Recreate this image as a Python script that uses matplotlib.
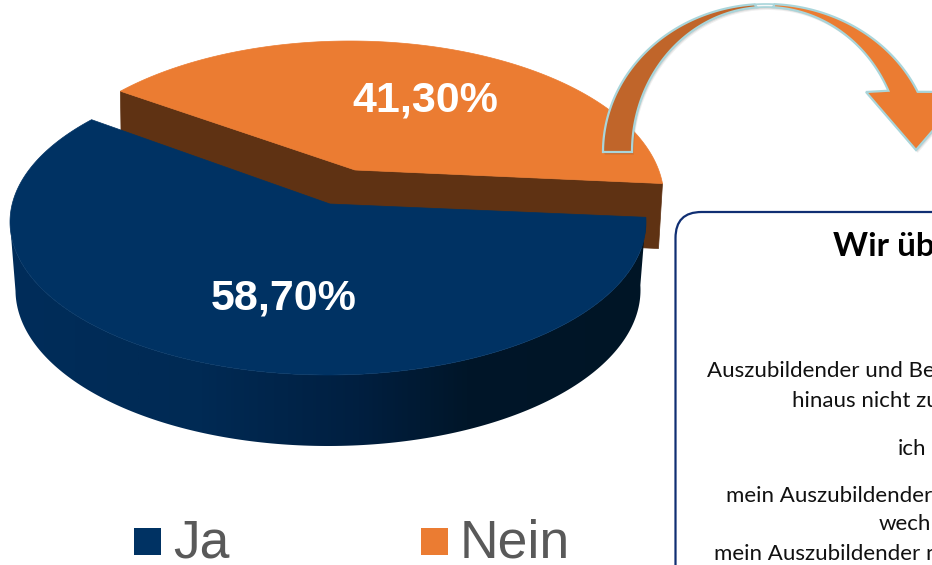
import numpy as np
import matplotlib
matplotlib.use("Agg")
import matplotlib.pyplot as plt
from matplotlib.patches import Polygon, Rectangle, FancyBboxPatch
from matplotlib.colors import LinearSegmentedColormap

categories = ["Ja", "Nein"]
shares = [58.70, 41.30]
value_labels = ["58,70%", "41,30%"]
heading = "Wir üb"
box_lines = ["Auszubildender und Be", "hinaus nicht zu", "ich",
             "mein Auszubildender", "wech", "mein Auszubildender n"]

NAVY, ORANGE, WALL = "#003263", "#EB7C32", "#5F3213"
W, H = 932, 565
fig = plt.figure(figsize=(W / 100, H / 100), dpi=100)
ax = fig.add_axes([0, 0, 1, 1])
ax.set_xlim(0, W); ax.set_ylim(H, 0); ax.axis("off")


def rim(apex, cx, cy, rx, ry, start, sweep, n=240):
    """Points where rays from the apex meet the rim, equal angle per unit share."""
    ax0, ay0 = (apex[0] - cx) / rx, (apex[1] - cy) / ry
    th = np.radians(np.linspace(start, start + sweep, n))
    dx, dy = np.cos(th), np.sin(th)
    b = ax0 * dx + ay0 * dy
    t = -b + np.sqrt(b ** 2 - (ax0 ** 2 + ay0 ** 2 - 1))
    ux, uy = ax0 + t * dx, ay0 + t * dy
    return ux, uy, cx + rx * ux, cy + ry * uy


start_angle = 5.0
sweep_ja = shares[0] * 3.6
sweep_nein = shares[1] * 3.6

# rear slice (Nein)
apex_o = (355, 170)
ux, uy, xo, yo = rim(apex_o, 350, 199, 314, 158, start_angle + sweep_ja - 2.6, sweep_nein + 2.6)
drop = 65
wall_l = [(xo[0], yo[0]), apex_o, (apex_o[0], apex_o[1] + drop), (xo[0] + 1, yo[0] + drop)]
wall_r = [apex_o, (xo[-1], yo[-1]), (xo[-1] - 4, yo[-1] + drop), (apex_o[0], apex_o[1] + drop)]
for w in (wall_l, wall_r):
    ax.add_patch(Polygon(w, fc=WALL, ec=WALL, lw=0.5, zorder=2))
ax.add_patch(Polygon(np.r_[[apex_o], np.c_[xo, yo]], fc=ORANGE, ec=ORANGE, lw=0.5, zorder=3))

# front slice (Ja)
apex_b = (330, 204)
cxb, cyb, rxb, ryb = 328, 222, 318, 153
ux, uy, xb, yb = rim(apex_b, cxb, cyb, rxb, ryb, start_angle, sweep_ja)
xb2, yb2 = 328 + 312.5 * ux, 290 + 156 * uy
k = int(np.argmin(xb)) + 1
side = np.r_[np.c_[xb[:k], yb[:k]], np.c_[xb2[:k], yb2[:k]][::-1]]
side_patch = Polygon(side, fc="none", ec="none", zorder=4)
ax.add_patch(side_patch)
cmap = LinearSegmentedColormap.from_list("side", [(0, "#002D5A"), (0.3, "#002A54"), (0.55, "#001F40"),
                                                  (0.72, "#001629"), (1, "#001526")])
grad = np.linspace(0, 1, 400)[None, :]
im = ax.imshow(grad, cmap=cmap, extent=(10, 646, 460, 200), aspect="auto", zorder=4)
im.set_clip_path(side_patch)
ax.set_xlim(0, W); ax.set_ylim(H, 0)
ax.add_patch(Polygon(np.r_[[apex_b], np.c_[xb, yb]], fc=NAVY, ec=NAVY, lw=0.5, zorder=5))

# value labels
lab = dict(color="white", fontsize=31, fontweight="bold", family="Liberation Sans", ha="center", va="baseline", zorder=7)
ax.text(284, 310, value_labels[0], **lab)
ax.text(425, 111, value_labels[1], **lab)

# curved arrow
acx, acy = 766, 152
a = np.radians(np.linspace(180, 266, 80))
left = np.r_[np.c_[acx + 163 * np.cos(a), acy + 148 * np.sin(a)],
             np.c_[acx + 134 * np.cos(a), acy + 145 * np.sin(a)][::-1]]
m = np.radians(np.linspace(266, 273, 20))
mid = np.r_[np.c_[acx + 163 * np.cos(m), acy + 148 * np.sin(m)],
            np.c_[acx + 134 * np.cos(m), acy + 145 * np.sin(m)][::-1]]
b1 = np.radians(np.linspace(273, 336.0, 80))
b2 = np.radians(np.linspace(273, 335.0, 80))
right = np.r_[np.c_[acx + 166 * np.cos(b1), acy + 148 * np.sin(b1)],
              [(966, 92), (916, 150), (866, 92)],
              np.c_[acx + 135 * np.cos(b2), acy + 145 * np.sin(b2)][::-1]]
for shape in (left, mid, right):
    for off, al in ((3.0, 0.06), (2.0, 0.08), (1.0, 0.10)):
        ax.add_patch(Polygon(shape + [off * 0.6, off], fc="black", ec="none", alpha=al, zorder=8))
ax.add_patch(Polygon(mid, fc="#F6F9F9", ec="#A9D5DA", lw=1.2, zorder=9))
ax.add_patch(Polygon(left, fc="#C0652A", ec="#A9D5DA", lw=1.6, joinstyle="miter", zorder=9))
ax.add_patch(Polygon(right, fc=ORANGE, ec="#A9D5DA", lw=1.6, joinstyle="miter", zorder=9))

# text box
ax.add_patch(FancyBboxPatch((675.5, 212), 400, 500, boxstyle="round,pad=0,rounding_size=26",
                            fc="white", ec="#102F73", lw=1.6, zorder=10))
ax.text(833, 256, heading, family="Lato", fontweight="bold", fontsize=24, color="black", va="baseline", zorder=11)
xs = [707, 792, 898, 726, 879, 714]
ys = [377, 407, 455, 502, 530, 560]
for s, x, y in zip(box_lines, xs, ys):
    ax.text(x, y, s, family="Lato", fontsize=16, color="#111111", va="baseline", zorder=11)

# legend
for cat, col, xs0, xt in zip(categories, (NAVY, ORANGE), (134, 421), (173, 460)):
    ax.add_patch(Rectangle((xs0, 528), 27, 27, fc=col, ec="none", zorder=6))
    ax.text(xt, 558, cat, family="Liberation Sans", fontsize=38.5, color="#595959", va="baseline", zorder=6)

fig.savefig("out.png", dpi=100)
